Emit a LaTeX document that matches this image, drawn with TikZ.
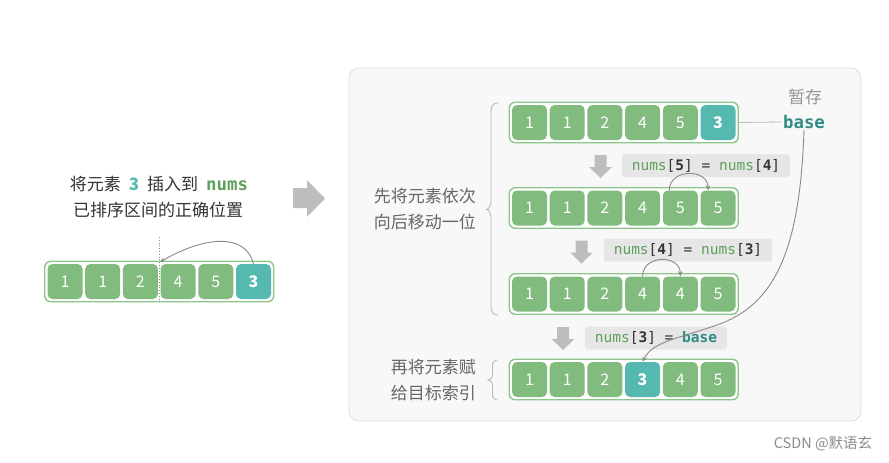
\documentclass[tikz,border=0pt]{standalone}
\usepackage{fontspec}
\setmainfont{Noto Sans CJK SC}
\setmonofont{DejaVu Sans Mono}
\usetikzlibrary{arrows.meta,calc}
\definecolor{cg}{HTML}{82BB7E}
\definecolor{ct}{HTML}{55B9B0}
\definecolor{frameg}{HTML}{8CC68A}
\definecolor{numsg}{HTML}{5DA05A}
\definecolor{baset}{HTML}{2F8C85}
\definecolor{dk}{HTML}{333333}
\definecolor{gtxt}{HTML}{666666}
\definecolor{arrg}{HTML}{BDBDBD}
\definecolor{panelf}{HTML}{F8F8F8}
\definecolor{paneld}{HTML}{DDDDDD}
\definecolor{lblf}{HTML}{E6E6E6}
\definecolor{lineg}{HTML}{8A8A8A}
\definecolor{braceg}{HTML}{BBBBBB}
\tikzset{
 cellbox/.style={minimum width=35pt,minimum height=35pt,rounded corners=5pt,fill=cg,text=white,font=\fontsize{16}{16}\selectfont,inner sep=0pt},
 tcell/.style={cellbox,fill=ct,font=\fontsize{16}{16}\selectfont\bfseries},
 framebox/.style={draw=frameg,line width=1.4pt,fill=white,rounded corners=6pt,minimum width=229pt,minimum height=40.5pt,inner sep=0pt},
 lbl/.style={fill=lblf,rounded corners=3pt,inner xsep=10pt,inner ysep=3pt,minimum height=23pt,font=\fontsize{14.5}{16}\selectfont\ttfamily},
 thinarrow/.style={draw=lineg,line width=0.9pt,-{Stealth[length=5pt,width=4.5pt]}},
 bracestyle/.style={draw=braceg,line width=0.9pt},
 cjktext/.style={font=\fontsize{17}{26}\selectfont,text=gtxt,inner sep=0pt},
}
\newcommand{\downblk}[2]{\fill[arrg] (#1-6,#2) -- (#1+6,#2) -- (#1+6,#2+12) -- (#1+11.5,#2+12) -- (#1,#2+23) -- (#1-11.5,#2+12) -- (#1-6,#2+12) -- cycle;}
\newcommand{\nm}{\textcolor{numsg}{nums}}
\newcommand{\br}[1]{\textcolor{dk}{[\textbf{#1}]}}
\begin{document}
\begin{tikzpicture}[x=1pt,y=-1pt]
\useasboundingbox (0,0) rectangle (889,463);
\fill[white] (0,0) rectangle (889,463);

% ---------- left part ----------
\node[font=\fontsize{17}{20}\selectfont,text=dk,inner sep=0pt] (t1) at (159,184)
  {将元素\hspace{8pt}\textcolor{ct}{\textbf{3}}\hspace{8pt}插入到\hspace{8pt}\textcolor{numsg}{\fontsize{17.4}{20}\selectfont\ttfamily\bfseries nums}};
\node[font=\fontsize{17}{20}\selectfont,text=dk,inner sep=0pt] (t2) at (158,210) {已排序区间的正确位置};

\node[framebox] (lf) at ({65+2.5*37.7},281.5) {};
\foreach \k/\v in {1/1,2/1,3/2,4/4,5/5}
  \node[cellbox] (l\k) at ({65+(\k-1)*37.7},281.5) {\v};
\node[tcell] (l6) at ({65+5*37.7},281.5) {3};
\coordinate (dtop) at (159.5,237);
\coordinate (dbot) at (159.5,303);
\draw[lineg,line width=0.8pt,dotted] (dtop) -- (dbot);
\coordinate (ins) at (160,262);
\draw[thinarrow] (l6.north) .. controls +(-8,-31) and +(45,-26) .. (ins);

% big arrow
\fill[arrg] (293,188) -- (307,188) -- (307,180) -- (325,198.5) -- (307,217) -- (307,208) -- (293,208) -- cycle;

% ---------- panel ----------
\draw[fill=panelf,draw=paneld,line width=0.8pt,rounded corners=10pt] (349,68) rectangle (861,421);

% row a
\node[framebox] (af) at ({529.5+2.5*37.7},122.5) {};
\foreach \k/\v in {1/1,2/1,3/2,4/4,5/5}
  \node[cellbox] (a\k) at ({529.5+(\k-1)*37.7},122.5) {\v};
\node[tcell] (a6) at ({529.5+5*37.7},122.5) {3};

% row b
\node[framebox] (bf) at ({529.5+2.5*37.7},208) {};
\foreach \k/\v in {1/1,2/1,3/2,4/4,5/5,6/5}
  \node[cellbox] (b\k) at ({529.5+(\k-1)*37.7},208) {\v};

% row c
\node[framebox] (cf) at ({529.5+2.5*37.7},294) {};
\foreach \k/\v in {1/1,2/1,3/2,4/4,5/4,6/5}
  \node[cellbox] (c\k) at ({529.5+(\k-1)*37.7},294) {\v};

% row d
\node[framebox] (df) at ({529.5+2.5*37.7},379.5) {};
\foreach \k/\v in {1/1,2/1,3/2,5/4,6/5}
  \node[cellbox] (d\k) at ({529.5+(\k-1)*37.7},379.5) {\v};
\node[tcell] (d4) at ({529.5+3*37.7},379.5) {3};

% down arrows
\downblk{600.5}{155}
\downblk{581.5}{240.5}
\downblk{563}{327}

% labels
\node[lbl] (la) at (706,165.5) {\nm\br{5} \textcolor{dk}{=} \nm\br{4}};
\node[lbl] (lb) at (688,250) {\nm\br{4} \textcolor{dk}{=} \nm\br{3}};
\node[lbl] (lc) at (656,338) {\nm\br{3} \textcolor{dk}{=} \textcolor{baset}{\textbf{base}}};

% small arcs
\draw[thinarrow] ([xshift=-11pt]b5.north) .. controls +(0,-22) and +(0,-22) .. ([xshift=-10pt]b6.north);
\draw[thinarrow] (c4.north) .. controls +(0,-22) and +(0,-22) .. (c5.north);

% base
\node[cjktext,text=lineg!90] (zc) at (805,97) {暂存};
\node[font=\fontsize{17.4}{20}\selectfont\ttfamily\bfseries,text=baset,inner sep=1pt] (base) at (804,122) {base};
\draw[braceg,line width=0.8pt] (af.east) -- (base.west);
\coordinate (bmid) at (717,325);
\draw[thinarrow] (base.south) .. controls (800,250) and (775,305) .. (bmid)
   .. controls (675,339.5) and (652,342) .. (d4.north);

% braces
\draw[bracestyle] (498,103) .. controls (493,103) and (491,106) .. (491,112) -- (491,200)
  .. controls (491,206) and (489,209) .. (486.5,209.5) .. controls (489,210) and (491,213) .. (491,219)
  -- (491,306) .. controls (491,312) and (493,315) .. (498,315);
\draw[bracestyle] (497,360) .. controls (494,360) and (492.5,362) .. (492.5,366) -- (492.5,374)
  .. controls (492.5,378) and (491,379.5) .. (488,380) .. controls (491,380.5) and (492.5,382) .. (492.5,386)
  -- (492.5,394) .. controls (492.5,398) and (494,400) .. (497,400);

% side texts
\node[cjktext,align=right,anchor=east] (s1) at (476,209) {先将元素依次\\向后移动一位};
\node[cjktext,align=right,anchor=east] (s2) at (476,380) {再将元素赋\\给目标索引};

% watermark
\node[font=\fontsize{14.5}{16}\selectfont,text=black!45,inner sep=0pt] (wm) at (823,444) {CSDN @默语玄};
\end{tikzpicture}
\end{document}
